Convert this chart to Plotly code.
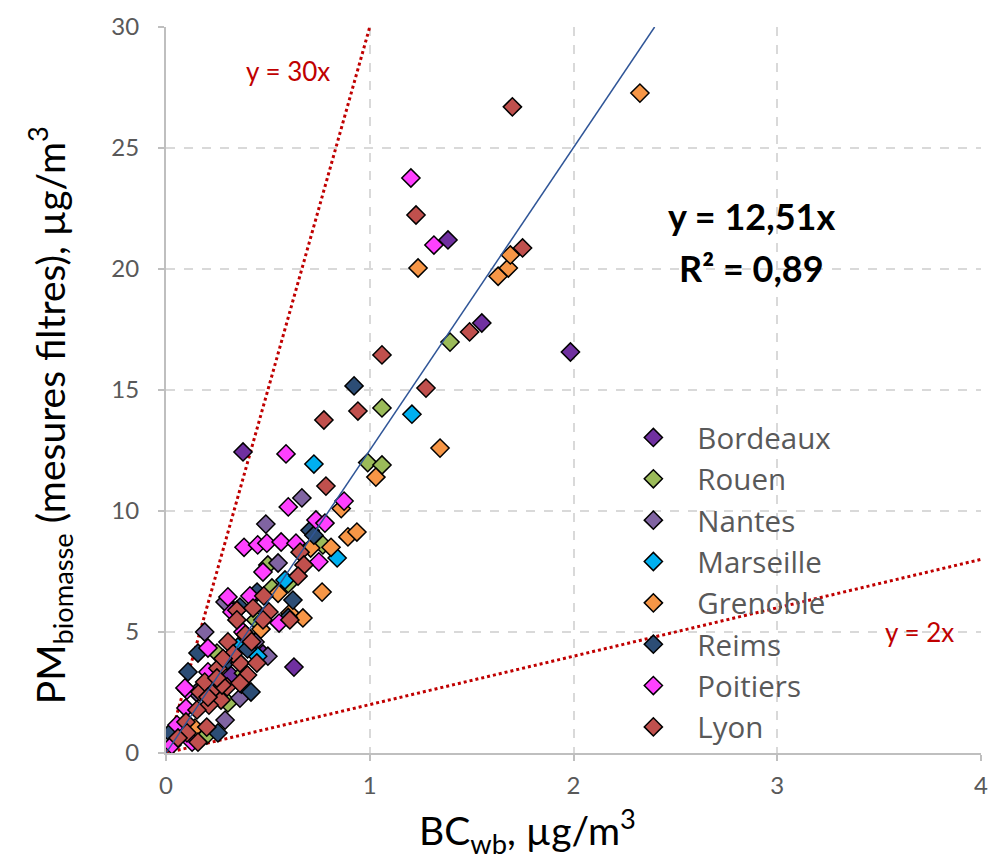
import plotly.graph_objects as go

# ---- data ----
cities = ["Bordeaux", "Rouen", "Nantes", "Marseille", "Grenoble", "Reims", "Poitiers", "Lyon"]
colors = ["#7030A0", "#9BBB59", "#8064A2", "#00B0F0", "#F79646", "#2C4D75", "#FF40FF", "#C0504D"]

bordeaux_x = [1.985, 1.55, 1.384, 0.378, 0.628, 0.476, 0.10, 0.22, 0.32]
bordeaux_y = [16.57, 17.77, 21.2, 12.44, 3.55, 4.09, 0.8, 2.4, 3.2]

rouen_x = [1.394, 1.06, 0.99, 1.06, 0.77, 0.50, 0.52, 0.25, 0.304, 0.20, 0.44, 0.38, 0.60]
rouen_y = [16.98, 14.26, 12.0, 11.9, 8.6, 7.77, 6.82, 4.13, 2.07, 0.74, 5.5, 3.3, 7.0]

nantes_x = [0.667, 0.49, 0.55, 0.29, 0.19, 0.437, 0.363, 0.29, 0.50, 0.15]
nantes_y = [10.54, 9.46, 7.85, 6.24, 5.0, 4.59, 2.27, 1.36, 4.0, 2.5]

marseille_x = [1.207, 0.726, 0.84, 0.584, 0.353, 0.37, 0.45]
marseille_y = [14.0, 11.94, 8.06, 7.15, 4.38, 2.85, 4.0]

grenoble_x = [2.326, 1.237, 1.63, 1.68, 1.69, 1.345, 1.03, 0.86, 0.893, 0.937, 0.71, 0.81, 0.766, 0.608, 0.672, 0.466, 0.142, 0.55]
grenoble_y = [27.27, 20.04, 19.7, 20.04, 20.58, 12.6, 11.4, 10.1, 8.93, 9.13, 8.47, 8.5, 6.65, 5.78, 5.58, 5.12, 1.03, 6.6]

reims_x = [0.923, 0.707, 0.726, 0.623, 0.447, 0.363, 0.157, 0.40, 0.108, 0.417, 0.255, 0.02, 0.60, 0.30]
reims_y = [15.17, 9.2, 9.0, 6.32, 6.65, 6.03, 4.13, 4.3, 3.35, 2.52, 0.83, 0.83, 5.6, 3.8]

poitiers_x = [1.202, 1.315, 0.589, 0.60, 0.874, 0.736, 0.78, 0.383, 0.45, 0.495, 0.565, 0.638, 0.75, 0.476,
              0.304, 0.412, 0.555, 0.324, 0.378, 0.206, 0.206, 0.103, 0.098, 0.054, 0.029, 0.128, 0.093, 0.25]
poitiers_y = [23.76, 20.99, 12.36, 10.17, 10.41, 9.63, 9.5, 8.5, 8.6, 8.67, 8.72, 8.67, 7.9, 7.48,
              6.45, 6.49, 5.37, 5.83, 5.0, 4.34, 3.35, 2.6, 1.86, 1.16, 0.33, 0.45, 2.69, 3.0]

lyon_x = [1.70, 1.227, 1.75, 1.49, 1.06, 1.276, 0.942, 0.775, 0.785, 0.658, 0.677, 0.648, 0.48, 0.348, 0.427,
          0.505, 0.608, 0.348, 0.304, 0.363, 0.446, 0.255, 0.40, 0.30, 0.23, 0.167, 0.27, 0.211, 0.152, 0.20,
          0.098, 0.103, 0.157, 0.059, 0.19, 0.275, 0.363, 0.206, 0.476, 0.39, 0.33, 0.28, 0.25, 0.42]
lyon_y = [26.7, 22.23, 20.87, 17.4, 16.45, 15.08, 14.13, 13.76, 11.03, 8.3, 7.77, 7.31, 6.49, 5.9, 5.99,
          5.83, 5.5, 5.5, 4.59, 3.72, 3.72, 3.5, 3.22, 2.73, 2.6, 2.52, 2.19, 1.98, 1.78, 1.07,
          1.28, 0.83, 0.45, 0.62, 2.93, 2.81, 2.89, 2.31, 5.5, 4.9, 4.1, 3.9, 3.1, 4.6]

series_x = [bordeaux_x, rouen_x, nantes_x, marseille_x, grenoble_x, reims_x, poitiers_x, lyon_x]
series_y = [bordeaux_y, rouen_y, nantes_y, marseille_y, grenoble_y, reims_y, poitiers_y, lyon_y]

slope = 12.51
r2 = 0.89
fit_x = [0, 30 / slope]
ref30_x = [0, 1]
ref2_x = [0, 4]

x_ticks = [0, 1, 2, 3, 4]
y_ticks = [0, 5, 10, 15, 20, 25, 30]

FONT = "Lato"

fig = go.Figure()

# reference lines
fig.add_trace(go.Scatter(x=ref30_x, y=[30 * v for v in ref30_x], mode="lines",
                         line=dict(color="#C00000", width=3, dash="dot"), showlegend=False, hoverinfo="skip"))
fig.add_trace(go.Scatter(x=ref2_x, y=[2 * v for v in ref2_x], mode="lines",
                         line=dict(color="#C00000", width=3, dash="dot"), showlegend=False, hoverinfo="skip"))

for name, col, xs, ys in zip(cities, colors, series_x, series_y):
    fig.add_trace(go.Scatter(x=xs, y=ys, mode="markers", name=name,
                             marker=dict(symbol="diamond", size=14, color=col,
                                         line=dict(color="black", width=1.5))))

# fit line
fig.add_trace(go.Scatter(x=fit_x, y=[slope * v for v in fit_x], mode="lines",
                         line=dict(color="#2F5597", width=1.5), showlegend=False, hoverinfo="skip"))

fig.add_annotation(x=0.6, y=28.2, text="y = 30x", showarrow=False,
                   font=dict(family=FONT, size=26, color="#C00000"))
fig.add_annotation(x=3.7, y=5.0, text="y = 2x", showarrow=False,
                   font=dict(family=FONT, size=26, color="#C00000"))
fig.add_annotation(x=2.876, y=22.2, text="<b>y = 12,51x</b>", showarrow=False,
                   font=dict(family=FONT, size=36, color="black"))
fig.add_annotation(x=2.876, y=20.04, text="<b>R² = 0,89</b>", showarrow=False,
                   font=dict(family=FONT, size=36, color="black"))

# axis titles
fig.add_annotation(xref="paper", yref="paper", x=0.444, y=-0.107, xanchor="center", yanchor="middle",
                   text="BC<sub>wb</sub>, µg/m<sup>3</sup>", showarrow=False,
                   font=dict(family=FONT, size=39, color="black"))
fig.add_annotation(xref="paper", yref="paper", x=-0.142, y=0.4656, xanchor="center", yanchor="middle",
                   textangle=-90,
                   text="PM<sub>biomasse</sub> (mesures filtres), µg/m<sup>3</sup>", showarrow=False,
                   font=dict(family=FONT, size=39, color="black"))

fig.update_layout(
    width=994, height=862,
    margin=dict(l=166, r=13, t=27, b=109, autoexpand=False),
    paper_bgcolor="white", plot_bgcolor="white",
    font=dict(family=FONT, color="#595959"),
    legend=dict(x=0.544, y=0.47, xanchor="left", yanchor="top",
                font=dict(family="Open Sans", size=29.5, color="#595959"),
                bgcolor="rgba(0,0,0,0)", itemwidth=78),
    xaxis=dict(range=[0, 4], tickvals=x_ticks, ticktext=[str(v) for v in x_ticks],
               showgrid=True, gridcolor="#D9D9D9", griddash="dash", gridwidth=1.5,
               showline=True, linecolor="#BFBFBF", linewidth=2,
               ticks="outside", ticklen=6, tickcolor="#BFBFBF", tickwidth=2,
               tickfont=dict(family=FONT, size=24, color="#595959"),
               ticklabelstandoff=4,
               zeroline=False, automargin=False),
    yaxis=dict(range=[0, 30], tickvals=y_ticks, ticktext=[str(v) for v in y_ticks],
               showgrid=True, gridcolor="#D9D9D9", griddash="dash", gridwidth=1.5,
               showline=True, linecolor="#BFBFBF", linewidth=2,
               ticks="outside", ticklen=6, tickcolor="#BFBFBF", tickwidth=2,
               tickfont=dict(family=FONT, size=24, color="#595959"),
               ticklabelstandoff=14,
               zeroline=False, automargin=False),
)

fig.write_html("out.html", config={"displayModeBar": False},
               post_script="document.body.style.margin='0';document.body.style.overflow='hidden';")
